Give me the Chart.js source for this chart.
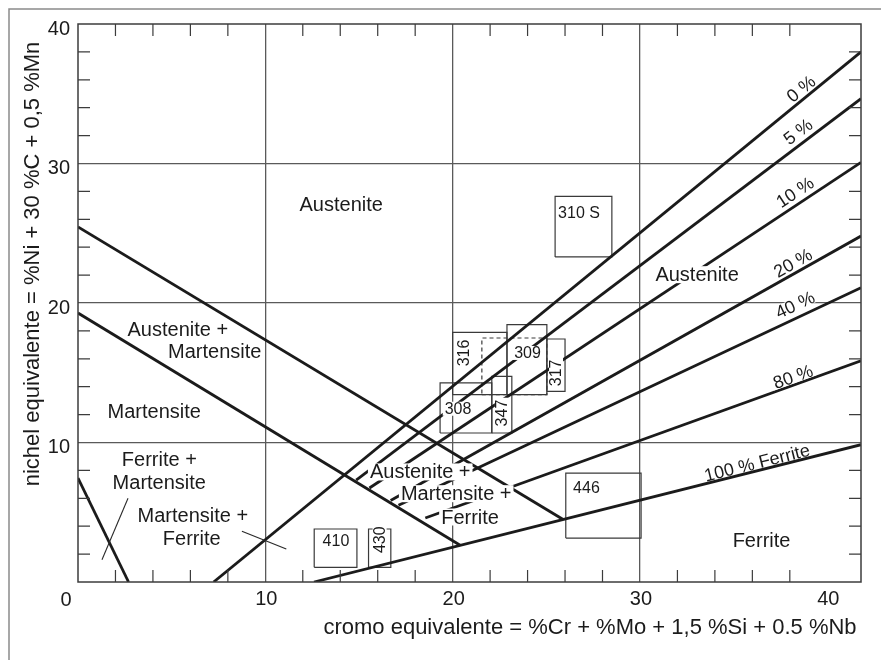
<!DOCTYPE html>
<html>
<head>
<meta charset="utf-8">
<script src="https://cdn.jsdelivr.net/npm/chart.js@4.4.1/dist/chart.umd.min.js"></script>
<style>
  html, body { margin: 0; padding: 0; background: #ffffff; }
  #wrap { position: relative; width: 881px; height: 660px; }
</style>
</head>
<body>
<div id="wrap"><canvas id="c"></canvas></div>
<script>
// Schaeffler constitution diagram (cromo equivalente vs nichel equivalente)

// Phase boundaries: start / end points (Cr eq, Ni eq)
const boundaryNames   = ['Austenite | Austenite + Martensite', 'Martensite | Austenite + Martensite', 'Ferrite | Ferrite + Martensite'];
const boundaryCrStart = [0, 0, 0];
const boundaryNiStart = [25.45, 19.28, 7.45];
const boundaryCrEnd   = [25.9, 20.4, 2.7];
const boundaryNiEnd   = [4.48, 2.63, 0];

// Iso-ferrite lines
const ferriteLabels  = ['0 %', '5 %', '10 %', '20 %', '40 %', '80 %', '100 % Ferrite'];
const ferriteCrStart = [7.24, 14.85, 15.56, 16.69, 17.11, 18.54, 12.6];
const ferriteNiStart = [0, 7.31, 6.74, 5.84, 5.50, 4.59, 0];
const ferriteCrEnd   = [41.8, 41.8, 41.8, 41.8, 41.8, 41.8, 41.8];
const ferriteNiEnd   = [38.0, 34.65, 30.08, 24.8, 21.1, 15.86, 9.84];

// Steel grade composition windows
const gradeNames = ['310 S', '316', '309', '317', '308', '347', '446', '410', '430'];
const gradeCrMin = [25.47, 20.0, 22.9, 25.03, 19.33, 22.09, 26.04, 12.61, 15.51];
const gradeCrMax = [28.5, 22.9, 25.03, 26.0, 22.09, 23.16, 30.06, 14.89, 16.70];
const gradeNiMin = [23.3, 13.43, 13.43, 13.66, 10.68, 10.68, 3.15, 1.05, 1.05];
const gradeNiMax = [27.64, 17.9, 18.45, 17.42, 14.27, 14.74, 7.81, 3.8, 3.8];

// Wider 309 window, drawn dashed
const wideGradeNames = ['309'];
const wideCrMin = [21.56];
const wideCrMax = [25.03];
const wideNiMin = [13.43];
const wideNiMax = [17.49];

// Axis ranges and labelled ticks
const crRange = [0, 41.8];
const niRange = [0, 40];
const crTickLabels = [10, 20, 30, 40];
const niTickLabels = [10, 20, 30, 40];

const INK = '#1b1b1b';
const FONT = '"Liberation Sans", Arial, Helvetica, sans-serif';

const datasets = [];
boundaryNames.forEach((n, i) => datasets.push({
  label: n,
  data: [{ x: boundaryCrStart[i], y: boundaryNiStart[i] }, { x: boundaryCrEnd[i], y: boundaryNiEnd[i] }],
  borderColor: INK, borderWidth: 2.8
}));
ferriteLabels.forEach((n, i) => datasets.push({
  label: n,
  data: [{ x: ferriteCrStart[i], y: ferriteNiStart[i] }, { x: ferriteCrEnd[i], y: ferriteNiEnd[i] }],
  borderColor: INK, borderWidth: 2.8
}));
function windowOutline(x0, x1, y0, y1) {
  return [{ x: x0, y: y0 }, { x: x1, y: y0 }, { x: x1, y: y1 }, { x: x0, y: y1 }, { x: x0, y: y0 }];
}
gradeNames.forEach((n, i) => datasets.push({
  label: n,
  data: windowOutline(gradeCrMin[i], gradeCrMax[i], gradeNiMin[i], gradeNiMax[i]),
  borderColor: '#3a3a3a', borderWidth: 1.2
}));
wideGradeNames.forEach((n, i) => datasets.push({
  label: n + ' (wide)',
  data: windowOutline(wideCrMin[i], wideCrMax[i], wideNiMin[i], wideNiMax[i]),
  borderColor: '#3a3a3a', borderWidth: 1.2, borderDash: [4, 3]
}));
datasets.forEach(d => Object.assign(d, { showLine: true, pointRadius: 0, fill: false, tension: 0 }));

// Text placement (Cr eq, Ni eq) for the region names and grade tags
const layoutText = {
  regions: [
    { t: 'Austenite', x: 14.05, y: 27.05 },
    { t: 'Austenite +', x: 5.33, y: 18.09 },
    { t: 'Martensite', x: 7.30, y: 16.53 },
    { t: 'Martensite', x: 4.07, y: 12.23 },
    { t: 'Ferrite +', x: 4.34, y: 8.77 },
    { t: 'Martensite', x: 4.34, y: 7.14 },
    { t: 'Martensite +', x: 6.13, y: 4.75 },
    { t: 'Ferrite', x: 6.07, y: 3.10 },
    { t: 'Austenite +', x: 18.27, y: 7.89 },
    { t: 'Martensite +', x: 20.19, y: 6.33 },
    { t: 'Ferrite', x: 20.93, y: 4.66 },
    { t: 'Austenite', x: 33.05, y: 22.03 },
    { t: 'Ferrite', x: 36.49, y: 2.98 }
  ],
  grades: [
    { t: '310 S', x: 25.63, y: 26.47, left: true },
    { t: '316', x: 20.58, y: 16.42, rot: true },
    { t: '309', x: 24.0, y: 16.42 },
    { t: '317', x: 25.52, y: 14.99, rot: true },
    { t: '308', x: 20.29, y: 12.42 },
    { t: '347', x: 22.63, y: 12.11, rot: true },
    { t: '446', x: 26.43, y: 6.76, left: true },
    { t: '410', x: 13.77, y: 2.96 },
    { t: '430', x: 16.10, y: 3.03, rot: true }
  ],
  ferrite: [
    { x: 38.60, y: 35.36, bg: true }, { x: 38.44, y: 32.28, bg: true }, { x: 38.28, y: 27.94, bg: true },
    { x: 38.17, y: 22.87, bg: true }, { x: 38.28, y: 19.87, bg: true }, { x: 38.17, y: 14.71, bg: true },
    { x: 36.25, y: 8.55, bg: false }
  ],
  leaders: [
    [{ x: 2.67, y: 6.0 }, { x: 1.28, y: 1.6 }],
    [{ x: 8.75, y: 3.63 }, { x: 11.12, y: 2.37 }]
  ]
};

function tag(ctx, text, px, py, o) {
  ctx.save();
  ctx.translate(px, py);
  if (o.rot) ctx.rotate(o.rot);
  ctx.font = o.font;
  const w = ctx.measureText(text).width;
  const x0 = o.left ? 0 : -w / 2;
  if (o.bg) {
    ctx.fillStyle = '#ffffff';
    ctx.fillRect(x0 - 2, -o.h / 2, w + 4, o.h);
  }
  ctx.fillStyle = INK;
  ctx.textAlign = 'left';
  ctx.textBaseline = 'middle';
  ctx.fillText(text, x0, 1);
  ctx.restore();
}

const diagramDecor = {
  id: 'diagramDecor',
  beforeDraw(chart) {
    const ctx = chart.ctx;
    ctx.save();
    ctx.strokeStyle = '#8a8a8a';
    ctx.lineWidth = 1.5;
    ctx.beginPath();
    ctx.moveTo(9, 700); ctx.lineTo(9, 9); ctx.lineTo(900, 9);
    ctx.stroke();
    ctx.restore();
  },
  afterDatasetsDraw(chart) {
    const { ctx, chartArea: a, scales: { x, y } } = chart;
    ctx.save();
    // frame
    ctx.strokeStyle = '#3c3c3c';
    ctx.lineWidth = 1.5;
    ctx.strokeRect(a.left, a.top, a.right - a.left, a.bottom - a.top);
    // inward minor ticks on all four sides
    ctx.lineWidth = 1.2;
    ctx.beginPath();
    for (let v = 2; v <= 40; v += 2) {
      if (v % 10 === 0) continue;
      const px = x.getPixelForValue(v);
      ctx.moveTo(px, a.bottom); ctx.lineTo(px, a.bottom - 12);
      ctx.moveTo(px, a.top); ctx.lineTo(px, a.top + 12);
    }
    for (let v = 2; v < 40; v += 2) {
      if (v % 10 === 0) continue;
      const py = y.getPixelForValue(v);
      ctx.moveTo(a.left, py); ctx.lineTo(a.left + 12, py);
      ctx.moveTo(a.right, py); ctx.lineTo(a.right - 12, py);
    }
    ctx.stroke();
    // pointer strokes for the two small two-phase fields
    ctx.strokeStyle = '#2a2a2a';
    ctx.lineWidth = 1.1;
    layoutText.leaders.forEach(seg => {
      ctx.beginPath();
      ctx.moveTo(x.getPixelForValue(seg[0].x), y.getPixelForValue(seg[0].y));
      ctx.lineTo(x.getPixelForValue(seg[1].x), y.getPixelForValue(seg[1].y));
      ctx.stroke();
    });
    ctx.restore();

    // region names
    layoutText.regions.forEach(r => tag(ctx, r.t, x.getPixelForValue(r.x), y.getPixelForValue(r.y),
      { font: '20px ' + FONT, bg: true, h: 17 }));
    // grade tags
    layoutText.grades.forEach(g => tag(ctx, g.t, x.getPixelForValue(g.x), y.getPixelForValue(g.y),
      { font: '16px ' + FONT, bg: true, h: 14, left: g.left, rot: g.rot ? -Math.PI / 2 : 0 }));
    // iso-ferrite names, turned along their lines
    ferriteLabels.forEach((t, i) => {
      const ang = Math.atan2(
        y.getPixelForValue(ferriteNiEnd[i]) - y.getPixelForValue(ferriteNiStart[i]),
        x.getPixelForValue(ferriteCrEnd[i]) - x.getPixelForValue(ferriteCrStart[i]));
      const p = layoutText.ferrite[i];
      tag(ctx, t, x.getPixelForValue(p.x), y.getPixelForValue(p.y),
        { font: '18px ' + FONT, bg: p.bg, h: 13, rot: ang });
    });
  },
  afterDraw(chart) {
    const { ctx, chartArea: a, scales: { x } } = chart;
    ctx.save();
    ctx.fillStyle = INK;
    ctx.font = '22px ' + FONT;
    ctx.textAlign = 'center';
    ctx.textBaseline = 'middle';
    ctx.fillText('cromo equivalente = %Cr + %Mo + 1,5 %Si + 0.5 %Nb', 590, 628);
    ctx.translate(32.5, 264);
    ctx.rotate(-Math.PI / 2);
    ctx.fillText('nichel equivalente = %Ni + 30 %C + 0,5 %Mn', 0, 0);
    ctx.restore();
    // shared origin label
    ctx.save();
    ctx.fillStyle = INK;
    ctx.font = '20px ' + FONT;
    ctx.textAlign = 'center';
    ctx.textBaseline = 'middle';
    ctx.fillText('0', x.getPixelForValue(crRange[0]) - 12, a.bottom + 18);
    ctx.restore();
  }
};

const gridColor = c => (c.tick && c.tick.value % 10 === 0 && c.tick.value > 0 && c.tick.value < 40) ? '#5a5a5a' : 'rgba(0,0,0,0)';

new Chart(document.getElementById('c'), {
  type: 'scatter',
  data: { datasets },
  options: {
    responsive: true,
    maintainAspectRatio: false,
    animation: false,
    events: [],
    layout: { padding: { top: 24, right: 20, left: 0, bottom: 0 } },
    plugins: { legend: { display: false }, tooltip: { enabled: false } },
    scales: {
      x: {
        type: 'linear', min: crRange[0], max: crRange[1],
        border: { display: false },
        grid: { color: gridColor, lineWidth: 1.3, drawTicks: false },
        ticks: {
          stepSize: 2, includeBounds: false, autoSkip: false, maxRotation: 0,
          padding: 5, labelOffset: 1,
          color: INK, font: { family: FONT, size: 20 },
          callback: v => crTickLabels.includes(v) ? String(v) : ''
        },
        afterFit: s => { s.height = 78; }
      },
      y: {
        type: 'linear', min: niRange[0], max: niRange[1],
        border: { display: false },
        grid: { color: gridColor, lineWidth: 1.3, drawTicks: false },
        ticks: {
          stepSize: 2, includeBounds: false, autoSkip: false,
          padding: 8, labelOffset: 5,
          color: INK, font: { family: FONT, size: 20 },
          callback: v => niTickLabels.includes(v) ? String(v) : ''
        },
        afterFit: s => { s.width = 78; }
      }
    }
  },
  plugins: [diagramDecor]
});
</script>
</body>
</html>
